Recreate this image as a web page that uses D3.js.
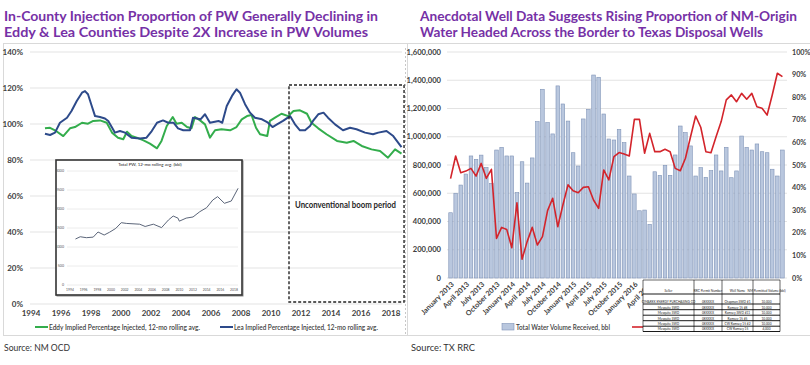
<!DOCTYPE html>
<html><head><meta charset="utf-8">
<script src="https://cdn.jsdelivr.net/npm/d3@7"></script>
<style>
html,body{margin:0;padding:0;background:#fff;}
svg{display:block;font-family:Lato,"Open Sans",sans-serif;}
</style></head><body>
<svg id="c" width="810" height="365"></svg>
<script>
// ---------- LEFT CHART DATA ----------
const leftYTicks = [0, 20, 40, 60, 80, 100, 120, 140];
const leftXTicks = [1994, 1996, 1998, 2000, 2002, 2004, 2006, 2008, 2010, 2012, 2014, 2016, 2018];
const eddyPts = [[1994.93,97.6],[1995.27,97.9],[1995.6,96.5],[1996.15,93.3],[1996.6,97.6],[1996.93,98.3],[1997.4,100.7],[1997.8,100.2],[1998.15,101.7],[1998.6,102],[1999.05,100.7],[1999.4,95.2],[1999.8,92.4],[2000.15,91.5],[2000.4,95.7],[2000.7,93.3],[2001.05,92.4],[2001.5,90.9],[2001.93,89.1],[2002.4,86.5],[2002.7,90.6],[2003.05,98.9],[2003.45,103.9],[2003.7,100.2],[2004.05,100.7],[2004.4,98.3],[2004.7,97.6],[2004.93,103.9],[2005.27,102],[2005.6,99.8],[2005.93,92.4],[2006.27,96.5],[2006.7,97.1],[2007.27,96.5],[2007.7,98.3],[2008.05,102.6],[2008.4,104.4],[2008.7,105],[2009.0,97.9],[2009.27,94.3],[2009.75,93.3],[2009.93,101.7],[2010.27,103.5],[2010.7,105.7],[2011.15,104.4],[2011.5,107.2],[2011.93,107.6],[2012.4,105.7],[2012.7,100.7],[2013.15,97.6],[2013.7,94.3],[2014.4,90.6],[2015.05,89.6],[2015.5,90.6],[2016.05,87.8],[2016.7,85.9],[2017.27,85],[2017.8,81.3],[2018.27,85.9],[2018.7,83.5]];
const leaPts = [[1994.93,94.6],[1995.27,93.9],[1995.6,95.2],[1995.93,100.7],[1996.4,103.5],[1996.7,107.2],[1997.05,112.8],[1997.4,117.4],[1997.6,118.3],[1997.8,116.5],[1998.05,110],[1998.27,104.4],[1998.6,103.9],[1998.93,103.1],[1999.15,101.7],[1999.6,95.2],[1999.93,96.1],[2000.27,95.2],[2000.7,92.4],[2001.27,92],[2001.7,92.4],[2002.05,96.1],[2002.4,100.7],[2002.8,102],[2003.15,100.7],[2003.5,100.7],[2003.8,97.6],[2004.15,96.5],[2004.6,96.5],[2004.8,103.5],[2005.3,102.6],[2005.6,105.4],[2005.93,100.7],[2006.5,101.7],[2006.75,100.7],[2007.05,110],[2007.4,115.6],[2007.7,119.3],[2007.93,117.4],[2008.27,111],[2008.6,106.3],[2008.93,103.5],[2009.4,102.6],[2009.8,100.7],[2010.1,98.3],[2010.4,99.8],[2010.8,101.7],[2011.27,104.4],[2011.6,99.8],[2011.93,96.5],[2012.27,96.5],[2012.6,98.9],[2012.8,101.7],[2013.15,105.4],[2013.5,106.3],[2013.8,103.5],[2014.27,99.8],[2014.8,96.5],[2015.27,97.9],[2015.7,97.1],[2016.27,95.2],[2016.8,94.3],[2017.15,95.2],[2017.7,96.1],[2018.15,93.3],[2018.7,87.2]];
const boomPeriod = [2011.2, 2018.87];
// inset: total PW (bbl, thousands)
const insetYTicks = [0, 500, 1000, 1500, 2000, 2500, 3000];
const insetXTicks = [1994, 1996, 1998, 2000, 2002, 2004, 2006, 2008, 2010, 2012, 2014, 2016, 2018];
const insetPts = [[1994.8,1210],[1995.5,1270],[1996.4,1245],[1997.4,1260],[1998.1,1395],[1999,1315],[1999.8,1390],[2000.7,1490],[2001.5,1640],[2002.3,1620],[2004.2,1600],[2005,1540],[2006.2,1600],[2007.4,1510],[2008.4,1710],[2009.1,1815],[2009.8,1760],[2010,1680],[2011,1760],[2012,1790],[2013,1930],[2014,2035],[2014.9,2237],[2015.6,2325],[2016.6,2150],[2017.6,2210],[2018.6,2545]];

// ---------- RIGHT CHART DATA ----------
const volumeK = [462,600,658,736,864,840,870,783,670,906,925,864,864,604,823,672,850,1107,1336,1100,1020,1360,1232,1111,887,793,1126,1194,1437,1421,1161,984,977,1052,958,722,595,476,481,380,752,727,798,727,871,1076,1029,935,722,781,713,760,871,758,925,710,758,1005,925,906,949,894,887,770,722,906];
const nmPct = [44,54,46.6,47.3,48.5,45.1,50.7,44.1,48.1,17.5,22.4,21.5,13.4,33.3,8.3,16.1,22.4,14.6,18.3,29.8,35.3,22.7,32.3,41.2,38.6,37.7,40.1,40.4,34.5,30.8,47.8,43.4,53.7,55.5,54.9,54,70.2,70.2,55.2,64,55.9,55.9,57,55.9,48.5,47.5,53,62.5,71.7,66.7,55.9,55.4,62.5,69.2,78.8,81,78,81.7,79.1,81.7,75.8,75.1,72.1,81,90.6,89.1];
const monthTickLabels = ["January 2013","April 2013","July 2013","October 2013","January 2014","April 2014","July 2014","October 2014","January 2015","April 2015","July 2015","October 2015","January 2016","April 2016","July 2016","October 2016","January 2017","April 2017","July 2017","October 2017","January 2018","April 2018"];
const volTicks = [0,200000,400000,600000,800000,1000000,1200000,1400000,1600000];
const pctTicks = [0,10,20,30,40,50,60,70,80,90,100];
const tableHeader = ["Seller","RRC Permit Number","Well Name","NM Permitted Volume (bbl)"];
const tableRows = [
  ["CIMAREX ENERGY PURCHASING CO","08XXXX","Chapman SWD #1","10,000"],
  ["Mesquite SWD","08XXXX","Ramsey 15 #8","10,000"],
  ["Mesquite SWD","08XXXX","Ramsey SWD #11","10,000"],
  ["Mesquite SWD","08XXXX","Ramsey 15 #5","10,000"],
  ["Mesquite SWD","08XXXX","CW Ramsey 15 #2","10,000"],
  ["Mesquite SWD","08XXXX","CW Ramsey 15","4,000"]
];

const svg = d3.select("#c");
const purple = "#7631a6", txt = "#404040", grid = "#e3e3e3";
const green = "#33ad4c", navy = "#2d4a8a";

// ---------- panels ----------
svg.append("rect").attr("x",3.5).attr("y",43.5).attr("width",404).attr("height",292)
  .attr("fill","none").attr("stroke","#d9d9d9");
svg.append("line").attr("x1",408).attr("x2",810).attr("y1",43.5).attr("y2",43.5).attr("stroke","#d9d9d9");
svg.append("line").attr("x1",408).attr("x2",810).attr("y1",335.5).attr("y2",335.5).attr("stroke","#d9d9d9");
svg.append("line").attr("x1",405.5).attr("x2",405.5).attr("y1",48).attr("y2",335).attr("stroke","#c8c8c8").attr("stroke-dasharray","2,2");

// ---------- titles ----------
function title(x, y, s, w){
  svg.append("text").attr("x",x).attr("y",y).text(s)
    .attr("font-size",13.2).attr("font-weight",700).attr("fill",purple)
    .attr("textLength",w).attr("lengthAdjust","spacingAndGlyphs");
}
title(4, 20.5, "In-County Injection Proportion of PW Generally Declining in", 374);
title(4, 37, "Eddy & Lea Counties Despite 2X Increase in  PW Volumes", 364);
title(420, 20.5, "Anecdotal Well Data Suggests Rising Proportion of NM-Origin", 377);
title(420, 37, "Water Headed Across the Border to Texas Disposal Wells", 343);

// ---------- LEFT CHART ----------
const xL = d3.scaleLinear().domain([1994, 2018.8]).range([31, 403]);
const yL = d3.scaleLinear().domain([0, 140]).range([304, 52]);
const gL = svg.append("g");
gL.selectAll(".gl").data(leftYTicks).join("line")
  .attr("x1",30).attr("x2",402).attr("y1",d=>yL(d)).attr("y2",d=>yL(d))
  .attr("stroke",grid).attr("stroke-width",1);
gL.selectAll(".yl").data(leftYTicks).join("text")
  .attr("x",23).attr("y",d=>yL(d)).attr("dy","0.35em").attr("text-anchor","end")
  .attr("font-size",8).attr("font-weight",700).attr("fill",txt).text(d=>d+"%");
gL.selectAll(".xl").data(leftXTicks).join("text")
  .attr("x",d=>xL(d)).attr("y",313).attr("dy","0.35em").attr("text-anchor","middle")
  .attr("font-size",8).attr("font-weight",700).attr("fill",txt).text(d=>d);
const lineL = d3.line().x(d=>xL(d[0])).y(d=>yL(d[1]));
gL.append("path").datum(eddyPts).attr("d",lineL).attr("fill","none").attr("stroke",green).attr("stroke-width",2).attr("stroke-linejoin","round");
gL.append("path").datum(leaPts).attr("d",lineL).attr("fill","none").attr("stroke",navy).attr("stroke-width",2).attr("stroke-linejoin","round");

// boom period box
gL.append("rect").attr("x",xL(boomPeriod[0])).attr("y",yL(121.7))
  .attr("width",xL(boomPeriod[1])-xL(boomPeriod[0])).attr("height",yL(1.1)-yL(121.7))
  .attr("fill","none").attr("stroke","#222").attr("stroke-width",1.4).attr("stroke-dasharray","3,2");
gL.append("text").attr("x",xL(boomPeriod[0])+6).attr("y",yL(55)).attr("dy","0.35em")
  .attr("font-size",8.5).attr("font-weight",700).attr("fill","#262626")
  .attr("textLength",101).attr("lengthAdjust","spacingAndGlyphs").text("Unconventional boom period");

// legend
gL.append("line").attr("x1",35).attr("x2",48).attr("y1",327).attr("y2",327).attr("stroke",green).attr("stroke-width",2);
gL.append("text").attr("x",49).attr("y",327).attr("dy","0.35em").attr("font-size",8).attr("font-weight",600).attr("fill",txt)
  .attr("textLength",151).attr("lengthAdjust","spacingAndGlyphs").text("Eddy Implied Percentage Injected, 12-mo rolling avg.");
gL.append("line").attr("x1",220).attr("x2",233).attr("y1",327).attr("y2",327).attr("stroke",navy).attr("stroke-width",2);
gL.append("text").attr("x",234).attr("y",327).attr("dy","0.35em").attr("font-size",8).attr("font-weight",600).attr("fill",txt)
  .attr("textLength",144).attr("lengthAdjust","spacingAndGlyphs").text("Lea Implied Percentage Injected, 12-mo rolling avg.");

// inset
const gI = svg.append("g");
gI.append("rect").attr("x",56).attr("y",160).attr("width",186).attr("height",135)
  .attr("fill","#fff").attr("stroke","#8a8a8a").attr("stroke-width",1).attr("transform","translate(1,1)");
gI.append("rect").attr("x",56).attr("y",160).attr("width",186).attr("height",135)
  .attr("fill","#fff").attr("stroke","#333").attr("stroke-width",1.6);
const xI = d3.scaleLinear().domain([1994, 2018]).range([70, 234]);
const yI = d3.scaleLinear().domain([0, 3000]).range([285, 171]);
gI.selectAll(".ig").data(insetYTicks).join("line")
  .attr("x1",67).attr("x2",238).attr("y1",d=>yI(d)).attr("y2",d=>yI(d)).attr("stroke","#ececec");
gI.selectAll(".iy").data(insetYTicks).join("text")
  .attr("x",64).attr("y",d=>yI(d)).attr("dy","0.35em").attr("text-anchor","end")
  .attr("font-size",3.6).attr("fill","#555").text(d=>d);
gI.selectAll(".ix").data(insetXTicks).join("text")
  .attr("x",d=>xI(d)).attr("y",289.5).attr("dy","0.35em").attr("text-anchor","middle")
  .attr("font-size",3.4).attr("fill","#555").text(d=>d);
gI.append("text").attr("x",150).attr("y",164.5).attr("dy","0.35em").attr("text-anchor","middle")
  .attr("font-size",4.4).attr("fill","#222").text("Total PW, 12-mo rolling avg. (bbl)");
gI.append("path").datum(insetPts).attr("d",d3.line().x(d=>xI(d[0])).y(d=>yI(d[1])))
  .attr("fill","none").attr("stroke","#5b6579").attr("stroke-width",1);

// ---------- RIGHT CHART ----------
const xR = d3.scaleBand().domain(d3.range(volumeK.length)).range([448, 785]).paddingInner(0.3).paddingOuter(0.15);
const yB = d3.scaleLinear().domain([0, 1600000]).range([278, 52]);
const yP = d3.scaleLinear().domain([0, 100]).range([278, 52]);
const gR = svg.append("g");
gR.selectAll(".rg").data(volTicks).join("line")
  .attr("x1",447).attr("x2",787).attr("y1",d=>yB(d)).attr("y2",d=>yB(d)).attr("stroke",grid);
gR.selectAll(".ry").data(volTicks).join("text")
  .attr("x",441).attr("y",d=>yB(d)).attr("dy","0.35em").attr("text-anchor","end")
  .attr("font-size",7.6).attr("font-weight",700).attr("fill",txt).text(d=>d3.format(",")(d));
gR.selectAll(".rp").data(pctTicks).join("text")
  .attr("x",792).attr("y",d=>yP(d)).attr("dy","0.35em").attr("text-anchor","start")
  .attr("font-size",7.2).attr("font-weight",700).attr("fill",txt).text(d=>d+"%");
gR.selectAll(".bar").data(volumeK).join("rect")
  .attr("x",(d,i)=>xR(i)).attr("width",xR.bandwidth())
  .attr("y",d=>yB(d*1000)).attr("height",d=>yB(0)-yB(d*1000))
  .attr("fill","#b9c7de").attr("stroke","#7f93b7").attr("stroke-width",0.6);
gR.append("path").datum(nmPct)
  .attr("d",d3.line().x((d,i)=>xR(i)+xR.bandwidth()/2).y(d=>yP(d)))
  .attr("fill","none").attr("stroke","#d3242b").attr("stroke-width",1.6).attr("stroke-linejoin","round");
gR.selectAll(".mx").data(monthTickLabels).join("text")
  .attr("transform",(d,i)=>`translate(${xR(i*3)+xR.bandwidth()/2+2},${283}) rotate(-45)`)
  .attr("text-anchor","end").attr("dy","0.35em")
  .attr("font-size",7.2).attr("font-weight",700).attr("fill",txt).text(d=>d);

// legend right
gR.append("rect").attr("x",502).attr("y",323.5).attr("width",12).attr("height",6.5)
  .attr("fill","#b9c7de").attr("stroke","#7f93b7").attr("stroke-width",0.6);
gR.append("text").attr("x",516).attr("y",327).attr("dy","0.35em").attr("font-size",8).attr("font-weight",600).attr("fill",txt)
  .attr("textLength",94).attr("lengthAdjust","spacingAndGlyphs").text("Total Water Volume Received, bbl");
gR.append("line").attr("x1",632).attr("x2",645).attr("y1",327).attr("y2",327).attr("stroke","#d3242b").attr("stroke-width",1.6);

// table overlay
const colX = [643, 694, 722, 753, 780];
const rowY = [280, 294, 304, 309.7, 315.2, 320.7, 326.2, 331.5];
const gT = svg.append("g");
gT.append("rect").attr("x",colX[0]).attr("y",rowY[0]).attr("width",colX[4]-colX[0]).attr("height",rowY[7]-rowY[0]).attr("fill","#fff");
rowY.forEach((y,k)=>gT.append("line").attr("x1",colX[0]).attr("x2",colX[4]).attr("y1",y).attr("y2",y)
  .attr("stroke","#000").attr("stroke-width",k===0?0.6:0.9));
colX.forEach(x=>gT.append("line").attr("x1",x).attr("x2",x).attr("y1",rowY[0]).attr("y2",rowY[7]).attr("stroke","#000").attr("stroke-width",0.6));
tableHeader.forEach((h,c)=>{
  gT.append("text").attr("x",(colX[c]+colX[c+1])/2).attr("y",rowY[1]-2.5)
    .attr("text-anchor","middle").attr("font-size",3.2).attr("fill","#222").text(h);
});
tableRows.forEach((r,k)=>{
  r.forEach((v,c)=>{
    gT.append("text").attr("x",(colX[c]+colX[c+1])/2).attr("y",rowY[k+2]-1.2)
      .attr("text-anchor","middle").attr("font-size",3.2).attr("fill","#222").text(v);
  });
});

// sources
svg.append("text").attr("x",4).attr("y",347.5).attr("dy","0.35em").attr("font-size",10).attr("fill","#333")
  .attr("textLength",66).attr("lengthAdjust","spacingAndGlyphs").text("Source: NM OCD");
svg.append("text").attr("x",411).attr("y",347.5).attr("dy","0.35em").attr("font-size",10).attr("fill","#333")
  .attr("textLength",64).attr("lengthAdjust","spacingAndGlyphs").text("Source: TX RRC");
</script></body></html>
